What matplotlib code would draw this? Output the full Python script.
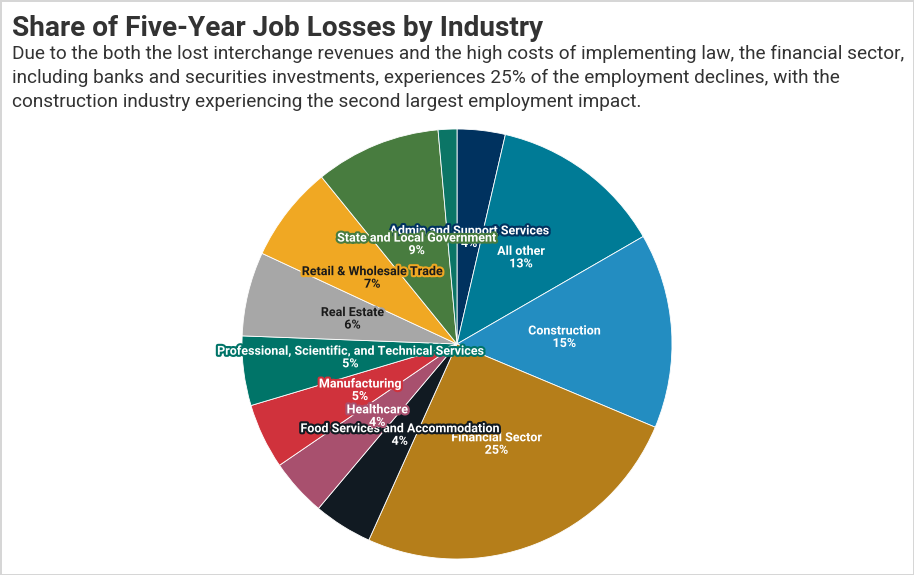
import numpy as np
import matplotlib.pyplot as plt
import matplotlib.patheffects as pe

plt.rcParams['font.family'] = ['Roboto', 'DejaVu Sans']

# slices, clockwise from 12 o'clock
industries = ['Admin and Support Services', 'All other', 'Construction',
              'Financial Sector', 'Food Services and Accommodation', 'Healthcare',
              'Manufacturing', 'Professional, Scientific, and Technical Services',
              'Real Estate', 'Retail & Wholesale Trade', 'State and Local Government',
              '']
shares = [3.6, 13.0, 14.6, 25.3, 4.4, 4.3, 4.9, 5.2, 6.3, 7.2, 9.4, 1.4]
colors = ['#00325f', '#007b96', '#238dc1', '#b57e1a', '#111a22', '#a8506e',
          '#d0323c', '#007468', '#a7a7a7', '#f0a823', '#487c3f', '#0b7566']
text_colors = ['white', 'white', 'white', 'white', 'white', 'white',
               'white', 'white', '#1a1a1a', '#1a1a1a', 'white', 'white']

title = 'Share of Five-Year Job Losses by Industry'
subtitle = ('Due to the both the lost interchange revenues and the high costs of implementing law, the financial sector,\n'
            'including banks and securities investments, experiences 25% of the employment declines, with the\n'
            'construction industry experiencing the second largest employment impact.')

fig = plt.figure(figsize=(9.14, 5.75), dpi=100)
fig.patch.set_edgecolor('#d6d6d6')
fig.patch.set_linewidth(2)

fig.text(12 / 914, 1 - 28 / 575, title, fontsize=20.2, fontweight='bold',
         color='#333333', va='center', ha='left')
fig.text(12 / 914, 1 - 45 / 575, subtitle, fontsize=13.65, color='#333333',
         va='top', ha='left', linespacing=1.42)

# pie centre at (457, 344) px, radius 215 px
ax = fig.add_axes([(457 - 215) / 914, (575 - 344 - 215) / 575, 430 / 914, 430 / 575])
wedges, _ = ax.pie(shares, colors=colors, startangle=90, counterclock=False,
                   wedgeprops=dict(edgecolor='white', linewidth=0.6))
ax.set_aspect('equal')
ax.set_xlim(-1, 1)
ax.set_ylim(-1, 1)

total = sum(shares)
for w, name, val, tc, c in zip(wedges, industries, shares, text_colors, colors):
    if not name:
        continue
    mid = np.deg2rad((w.theta1 + w.theta2) / 2)
    x, y = 0.5 * np.cos(mid), 0.5 * np.sin(mid)
    ax.text(x, y, f'{name}\n{round(val / total * 100)}%', ha='center', va='center',
            fontsize=9, fontweight='bold', color=tc, linespacing=0.95,
            path_effects=[pe.withStroke(linewidth=3, foreground=c)])

fig.savefig('out.png', dpi=100)
